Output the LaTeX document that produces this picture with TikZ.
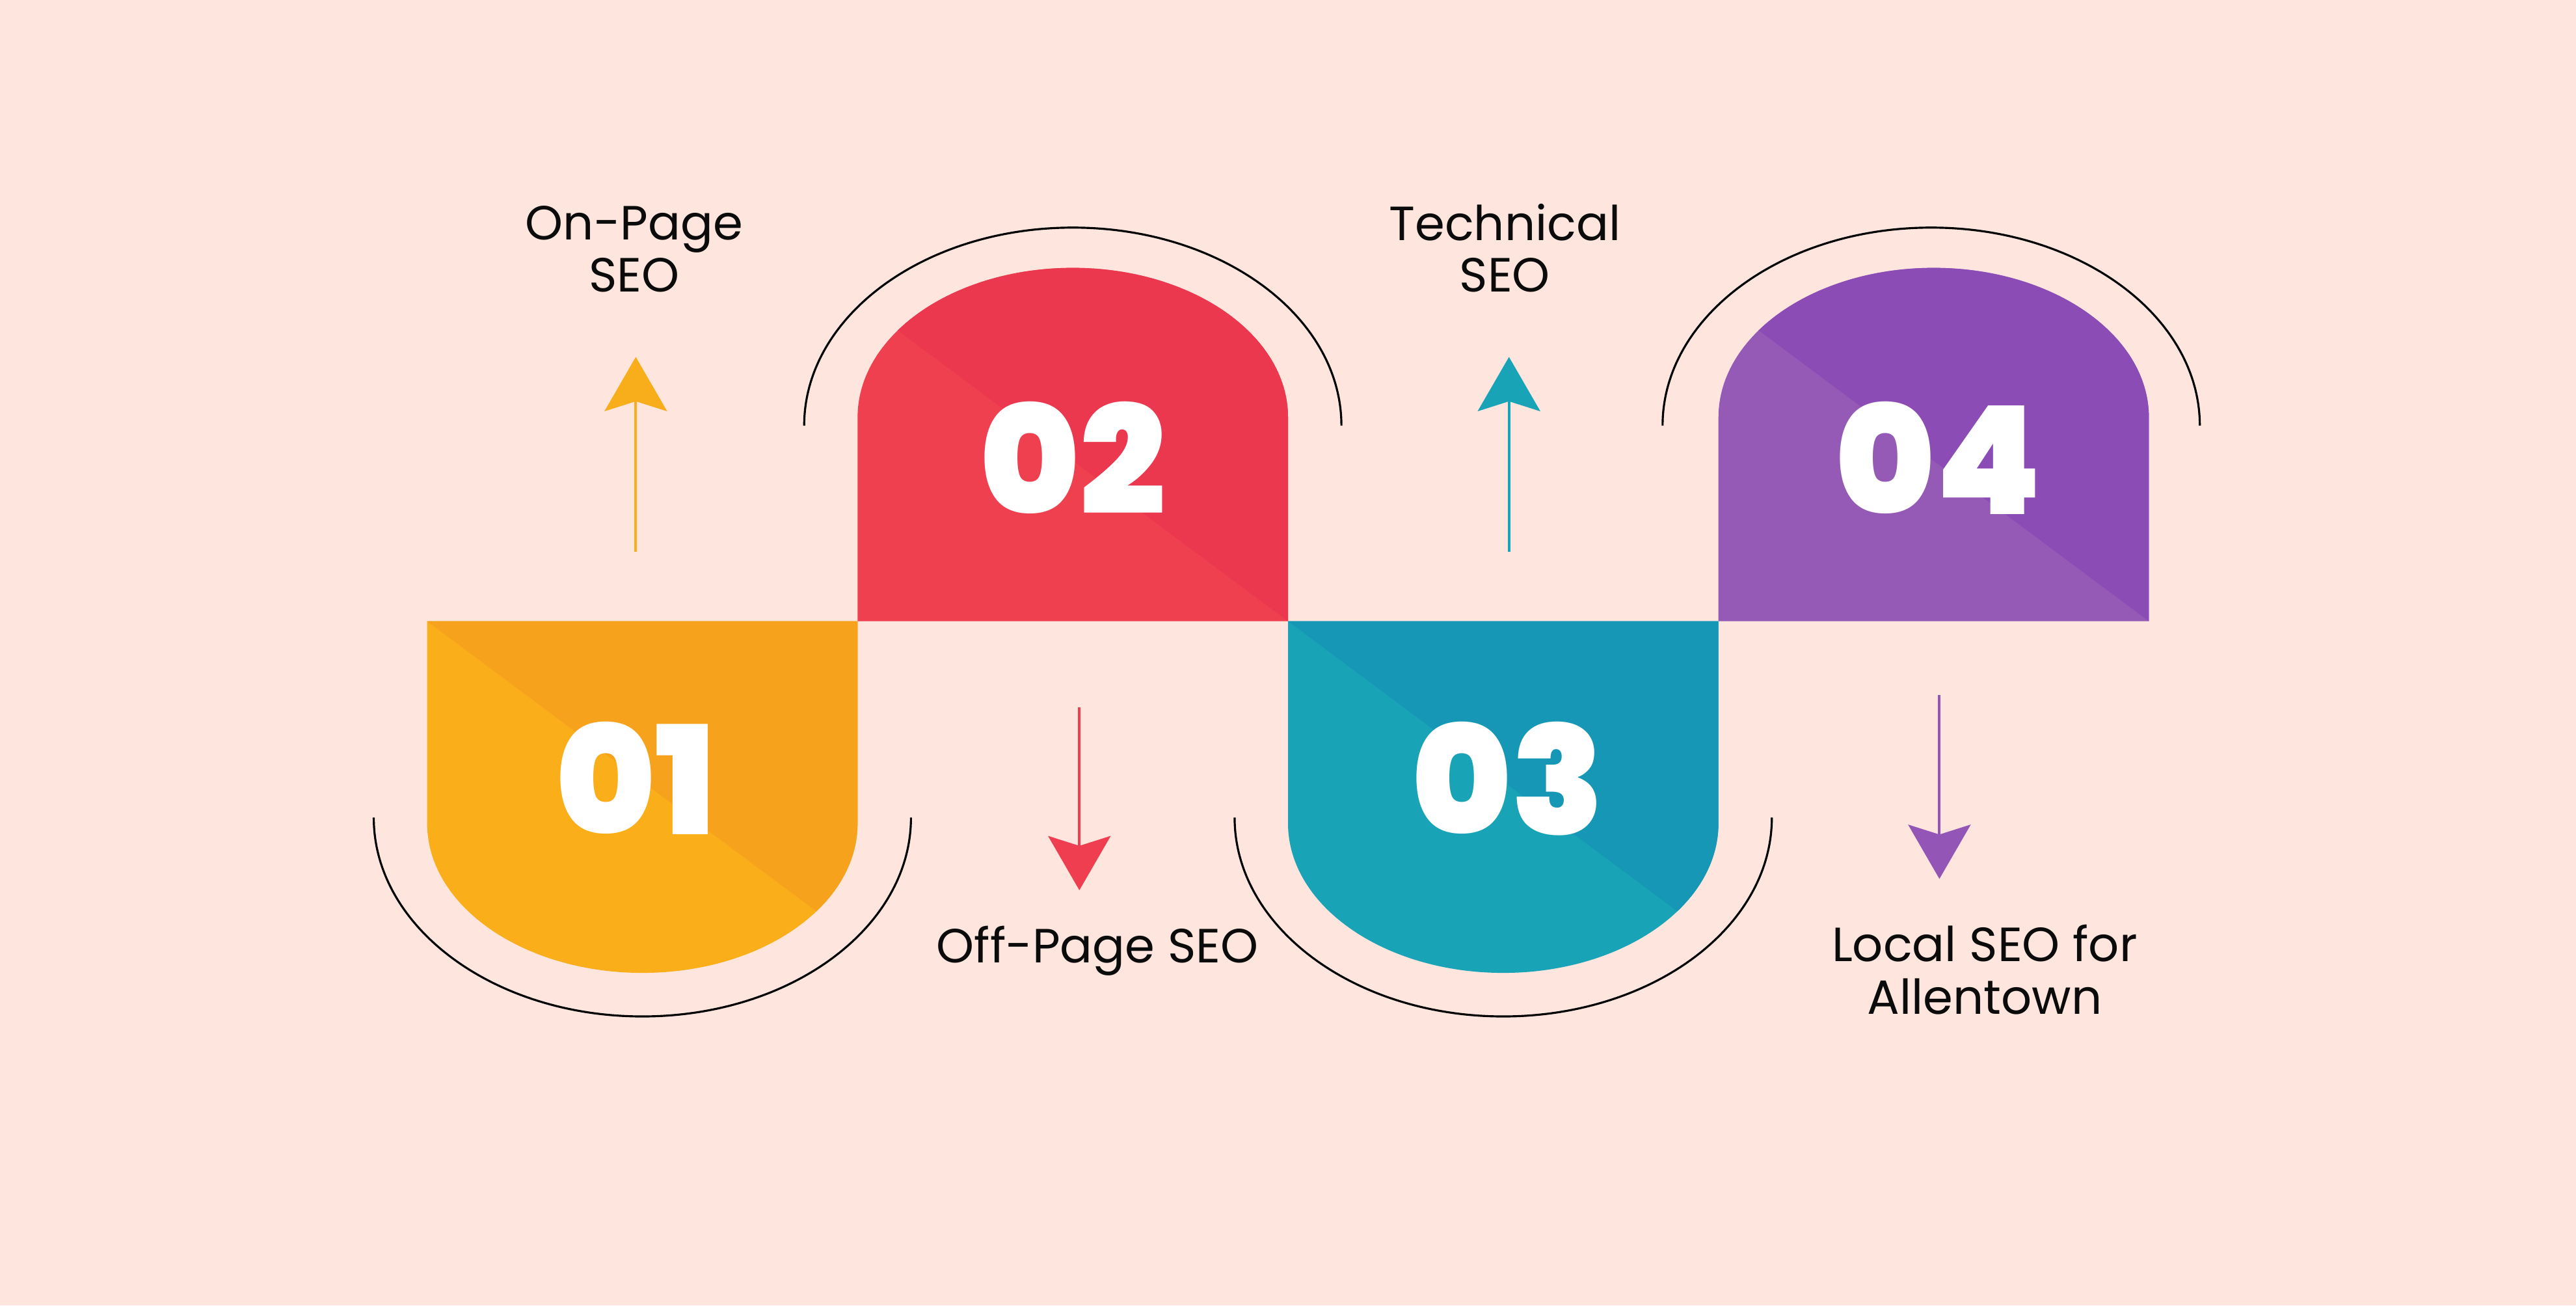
\documentclass[tikz,border=0pt]{standalone}
\usepackage{fontspec}
\usetikzlibrary{arrows.meta}
\setmainfont{Poppins}
\IfFontExistsTF{Poppins Black}{\newfontfamily\numfont{Poppins Black}}{\newfontfamily\numfont{Poppins}[UprightFont=*-Bold]}
\newfontfamily\labfont{Poppins}
\definecolor{bg}{HTML}{FEE6DF}
\definecolor{oL}{HTML}{F9AE1A}
\definecolor{oD}{HTML}{F6A21C}
\definecolor{rL}{HTML}{EF404F}
\definecolor{rD}{HTML}{EB384E}
\definecolor{tL}{HTML}{18A3B7}
\definecolor{tD}{HTML}{1797B6}
\definecolor{pL}{HTML}{955AB6}
\definecolor{pD}{HTML}{8C4CB5}
\definecolor{oA}{HTML}{F8AE1B}
\definecolor{rA}{HTML}{EE3E4F}
\definecolor{tA}{HTML}{18A3B6}
\definecolor{pA}{HTML}{9356B6}
\definecolor{ink}{HTML}{0B0B0B}
\tikzset{
  numtxt/.style={text=white,inner sep=0pt,anchor=base,font=\numfont\fontsize{66}{66}\selectfont},
  labtxt/.style={text=ink,inner sep=0pt,anchor=base,font=\labfont\fontsize{21}{22}\selectfont},
  ring/.style={draw=black,line width=0.9pt},
  pointer/.style={line width=1.15pt,-{Stealth[length=23.7pt,width=27.3pt,inset=4.3pt]}}
}
\begin{document}
\begin{tikzpicture}[x=0.025255cm,y=0.025255cm]
\fill[bg] (0,0) rectangle (1568,794.3);
\useasboundingbox (0,0) rectangle (1568,794.3);
% box 01
\begin{scope}
\clip (260,416.3) -- (260,293.3) arc[start angle=180,end angle=360,x radius=131,y radius=91] -- (522,416.3) -- cycle;
\fill[oL] (250,150) rectangle (530,420);
\fill[oD] (260,416.3) -- (660,118.3) -- (660,430) -- (260,430) -- cycle;
\end{scope}
% box 02
\begin{scope}
\clip (522,416.3) -- (522,540.3) arc[start angle=180,end angle=0,x radius=131,y radius=91] -- (784,416.3) -- cycle;
\fill[rL] (510,410) rectangle (790,640);
\fill[rD] (784,416.3) -- (384,714.3) -- (800,714.3) -- (800,416.3) -- cycle;
\end{scope}
% box 03
\begin{scope}
\clip (784,416.3) -- (784,293.3) arc[start angle=180,end angle=360,x radius=131,y radius=91] -- (1046,416.3) -- cycle;
\fill[tL] (774,150) rectangle (1054,420);
\fill[tD] (784,416.3) -- (1184,118.3) -- (1184,430) -- (784,430) -- cycle;
\end{scope}
% box 04
\begin{scope}
\clip (1046,416.3) -- (1046,540.3) arc[start angle=180,end angle=0,x radius=131,y radius=91] -- (1308,416.3) -- cycle;
\fill[pL] (1034,410) rectangle (1314,640);
\fill[pD] (1308,416.3) -- (908,714.3) -- (1324,714.3) -- (1324,416.3) -- cycle;
\end{scope}
% rings
\draw[ring] (227.5,296.8) arc[start angle=180,end angle=360,x radius=163.5,y radius=121];
\draw[ring] (489.5,535.3) arc[start angle=180,end angle=0,x radius=163.5,y radius=120.5];
\draw[ring] (751.5,296.8) arc[start angle=180,end angle=360,x radius=163.5,y radius=121];
\draw[ring] (1012,535.3) arc[start angle=180,end angle=0,x radius=163.5,y radius=120.5];
% numbers
\node[numtxt] (n1) at (387,286.3) {01};
\node[numtxt] (n2) at (653,481.3) {02};
\node[numtxt] (n3) at (918,286.3) {03};
\node[numtxt] (n4) at (1180,481.3) {04};
% arrows
\coordinate (a1s) at (387,458.6);
\coordinate (a1e) at (387,577.1);
\coordinate (a2s) at (657,363.8);
\coordinate (a2e) at (657,252.6);
\coordinate (a3s) at (918.5,458.6);
\coordinate (a3e) at (918.5,577.1);
\coordinate (a4s) at (1180.5,371.3);
\coordinate (a4e) at (1180.5,259.5);
\draw[pointer,draw=oA,fill=oA] (a1s) -- (a1e);
\draw[pointer,draw=rA,fill=rA] (a2s) -- (a2e);
\draw[pointer,draw=tA,fill=tA] (a3s) -- (a3e);
\draw[pointer,draw=pA,fill=pA] (a4s) -- (a4e);
% labels
\node[labtxt] (l1a) at (386,648.3) {On-Page};
\node[labtxt] (l1b) at (386,616.9) {SEO};
\node[labtxt] (l2) at (668,208.3) {Off-Page SEO};
\node[labtxt] (l3a) at (916,647.8) {Technical};
\node[labtxt] (l3b) at (916,616.9) {SEO};
\node[labtxt] (l4a) at (1208,209.3) {Local SEO for};
\node[labtxt] (l4b) at (1208,177.3) {Allentown};
\end{tikzpicture}
\end{document}
